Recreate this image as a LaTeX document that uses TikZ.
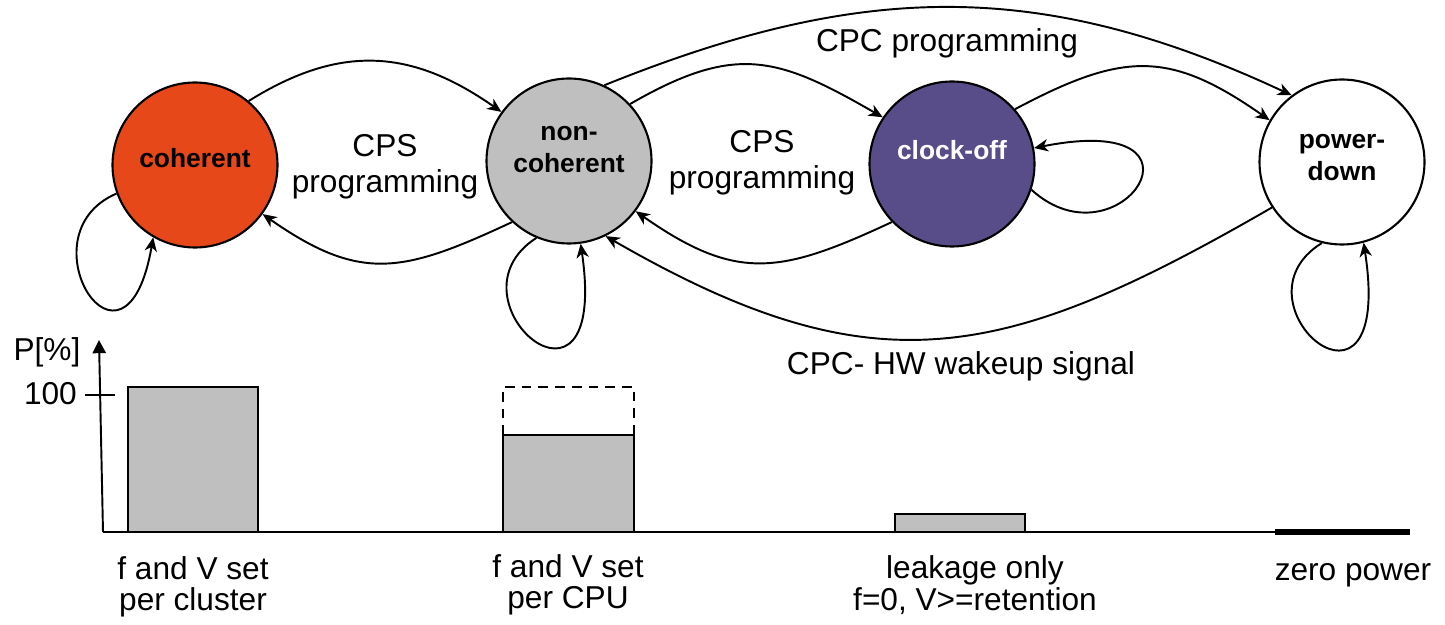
\documentclass[tikz,border=0pt]{standalone}
\usepackage{fontspec}
\setmainfont{Liberation Sans}
\usetikzlibrary{arrows.meta}
\definecolor{cohred}{RGB}{230,72,25}
\definecolor{offpurple}{RGB}{88,76,137}
\definecolor{bargrey}{RGB}{191,191,191}
\tikzset{
  state/.style={circle, draw=black, line width=1.2pt, minimum size=3.3cm, inner sep=0pt},
  statetext/.style={font=\fontsize{15pt}{18pt}\selectfont\bfseries, align=center},
  trans/.style={line width=1.1pt, -{Stealth[length=8pt,width=7pt,inset=2.4pt]}},
  edgetext/.style={font=\fontsize{18pt}{20.5pt}\selectfont, align=center},
  bartext/.style={font=\fontsize{18pt}{18pt}\selectfont, align=center},
  bar/.style={draw, line width=1.1pt, fill=bargrey},
}
\newcommand{\powerbar}[4]{\draw[bar] (#1,#2) rectangle (#3,#4);}
\begin{document}
\begin{tikzpicture}[x=0.2mm, y=0.2mm]
  \useasboundingbox (0,0) rectangle (1445,624);
  % states
  \node[state, fill=cohred, label={[statetext, yshift=0.14cm]center:coherent}] (coh) at (195,459) {};
  \node[state, fill=bargrey, label={[statetext, yshift=0.23cm]center:{non-\\coherent}}] (noncoh) at (569,463) {};
  \node[state, fill=offpurple, label={[statetext, text=white, yshift=0.27cm]center:clock-off}] (clkoff) at (952,460) {};
  \node[state, fill=white, label={[statetext, yshift=0.09cm]center:{power-\\down}}] (pwrdown) at (1342,462) {};
  % transitions
  \draw[trans] (coh.50) to[out=32, in=145, looseness=1.1] (noncoh.144);
  \draw[trans] (noncoh.227) to[out=205, in=-35, looseness=1.23] (coh.324);
  \draw[trans] (noncoh.43) to[out=30, in=150, looseness=1.23] (clkoff.146);
  \draw[trans] (clkoff.224) to[out=205, in=-35, looseness=1.23] (noncoh.323);
  \draw[trans] (noncoh.65) to[out=22, in=155, looseness=1.03] (pwrdown.127);
  \draw[trans] (clkoff.41) to[out=28, in=145, looseness=1.23] (pwrdown.150);
  \draw[trans] (pwrdown.213) to[out=210, in=-30, looseness=1.19] (noncoh.296);
  % self loops
  \draw[trans] (coh.200) .. controls (20,389) and (125,224) .. (coh.240);
  \draw[trans] (noncoh.247) .. controls (440,324) and (610,180) .. (noncoh.278);
  \draw[trans] (clkoff.342) .. controls (1120,354) and (1225,514) .. (clkoff.11);
  \draw[trans] (pwrdown.256) .. controls (1225,321) and (1395,177) .. (pwrdown.285);
  % transition labels
  \node[edgetext] (cps1) at (385,457) {CPS\\programming};
  \node[edgetext] (cps2) at (762,461) {CPS\\programming};
  \node[edgetext, anchor=base] (cpc) at (947,572) {CPC programming};
  \node[edgetext, anchor=base] (wake) at (961,249) {CPC- HW wakeup signal};
  % power bars
  \powerbar{128}{92}{258}{237}
  \powerbar{503}{92}{634}{189}
  \draw[line width=1.1pt, dash pattern=on 5.5pt off 4pt] (503,189) -- (503,237) -- (634,237) -- (634,189);
  \powerbar{895}{92}{1025}{110}
  % power axis
  \coordinate (origin) at (103,92);
  \coordinate (ptop) at (99,284);
  \coordinate (zstart) at (1275,92);
  \coordinate (zend) at (1410,92);
  \draw[line width=1.1pt, -{Triangle[length=7.5pt,width=7.5pt]}] (origin) -- (ptop);
  \draw[line width=1.1pt] (origin) -- (zstart);
  \draw[line width=3.2pt] (zstart) -- (zend);
  \draw[line width=1.1pt] (85,229) -- (115,229);
  \node[edgetext, anchor=east] (hundred) at (83,230) {100};
  \node[edgetext] (pct) at (47,272) {P[\%]};
  % bar labels
  \node[bartext] (lbl1) at (193,37) {f and V set\\per cluster};
  \node[bartext] (lbl2) at (568,39) {f and V set\\per CPU};
  \node[bartext] (lbl3) at (975,39) {leakage only\\f=0, V>=retention};
  \node[bartext, anchor=base] (lbl4) at (1353,44) {zero power};
\end{tikzpicture}
\end{document}
